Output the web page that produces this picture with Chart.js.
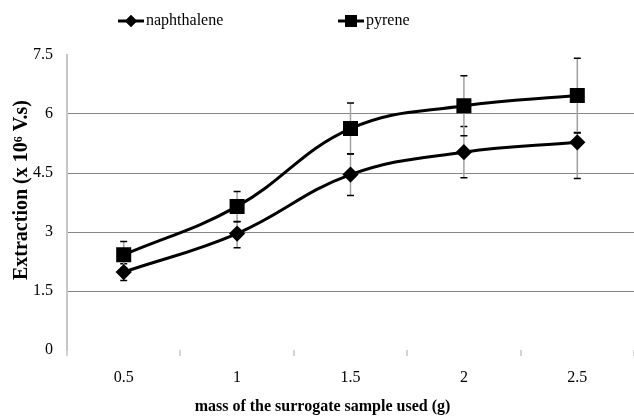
<!DOCTYPE html>
<html>
<head>
<meta charset="utf-8">
<script src="https://cdn.jsdelivr.net/npm/chart.js@4/dist/chart.umd.min.js"></script>
<style>
  html, body { margin: 0; padding: 0; background: #fff; }
</style>
</head>
<body>
<canvas id="myChart" width="634" height="417"></canvas>
<script>
/* globals Chart:false */
const masses = ['0.5', '1', '1.5', '2', '2.5']
const naphthalene = [1.98, 2.96, 4.46, 5.03, 5.28]
const naphthaleneErrUp = [0.21, 0.30, 0.53, 0.65, 0.25]
const naphthaleneErrDown = [0.21, 0.36, 0.53, 0.65, 0.92]
const pyrene = [2.42, 3.65, 5.63, 6.21, 6.47]
const pyreneErr = [0.34, 0.38, 0.65, 0.76, 0.95]
const yTicks = [0, 1.5, 3, 4.5, 6, 7.5]

const serif = '"Liberation Serif", "Times New Roman", serif'

// error bars: grey stem, short black caps
const errorBars = {
  id: 'errorBars',
  beforeDatasetsDraw (chart) {
    const { ctx } = chart
    const y = chart.scales.y
    chart.data.datasets.forEach((ds, i) => {
      const meta = chart.getDatasetMeta(i)
      meta.data.forEach((pt, j) => {
        const top = y.getPixelForValue(ds.data[j] + ds.errUp[j])
        const bot = y.getPixelForValue(ds.data[j] - ds.errDown[j])
        ctx.save()
        ctx.strokeStyle = '#a0a0a0'
        ctx.lineWidth = 1.5
        ctx.beginPath()
        ctx.moveTo(pt.x, top)
        ctx.lineTo(pt.x, bot)
        ctx.stroke()
        ctx.strokeStyle = '#000'
        ctx.beginPath()
        ctx.moveTo(pt.x - 3.5, top)
        ctx.lineTo(pt.x + 3.5, top)
        ctx.moveTo(pt.x - 3.5, bot)
        ctx.lineTo(pt.x + 3.5, bot)
        ctx.stroke()
        ctx.restore()
      })
    })
  }
}

// legend drawn like the Excel one: line + marker, then label
const lineLegend = {
  id: 'lineLegend',
  afterDraw (chart, args, opts) {
    const { ctx } = chart
    chart.data.datasets.forEach((ds, i) => {
      const x = opts.x[i]
      const y = opts.y
      ctx.save()
      ctx.strokeStyle = '#000'
      ctx.lineWidth = 3
      ctx.beginPath()
      ctx.moveTo(x, y)
      ctx.lineTo(x + 26, y)
      ctx.stroke()
      ctx.fillStyle = '#000'
      Chart.helpers.drawPoint(ctx, { pointStyle: ds.pointStyle, radius: ds.pointRadius, rotation: 0 }, x + 13, y)
      ctx.fill()
      ctx.font = '16px ' + serif
      ctx.textBaseline = 'middle'
      ctx.fillText(ds.label, x + 28, y)
      ctx.restore()
    })
  }
}

const ctx = document.getElementById('myChart')
new Chart(ctx, {
  type: 'line',
  data: {
    labels: masses,
    datasets: [{
      label: 'naphthalene',
      data: naphthalene,
      errUp: naphthaleneErrUp,
      errDown: naphthaleneErrDown,
      borderColor: '#000',
      borderWidth: 3,
      tension: 0.4,
      pointStyle: 'rectRot',
      pointRadius: 6,
      pointBackgroundColor: '#000',
      pointBorderColor: '#000'
    }, {
      label: 'pyrene',
      data: pyrene,
      errUp: pyreneErr,
      errDown: pyreneErr,
      borderColor: '#000',
      borderWidth: 3,
      tension: 0.4,
      pointStyle: 'rect',
      pointRadius: 8.5,
      pointBackgroundColor: '#000',
      pointBorderColor: '#000'
    }]
  },
  options: {
    responsive: false,
    animation: false,
    layout: { autoPadding: false, padding: { top: 55, right: -5, left: 0, bottom: 0 } },
    plugins: {
      legend: { display: false },
      tooltip: { enabled: false },
      lineLegend: { x: [118, 338], y: 21 }
    },
    scales: {
      x: {
        offset: true,
        grid: {
          offset: true,
          drawOnChartArea: false,
          drawTicks: true,
          tickLength: 6,
          color: '#d4d4d4',
          lineWidth: 2
        },
        border: { display: false },
        ticks: { color: '#000', font: { family: serif, size: 16 }, padding: 12 },
        title: {
          display: true,
          text: 'mass of the surrogate sample used (g)              ',
          color: '#000',
          font: { family: serif, size: 16, weight: 'bold' },
          padding: { top: 0, bottom: 1 }
        },
        afterFit (scale) {
          scale.height = 67
          scale.paddingLeft = 0
          scale.paddingRight = 0
        }
      },
      y: {
        min: 0,
        max: 7.5,
        afterBuildTicks (scale) { scale.ticks = yTicks.map(v => ({ value: v })) },
        grid: {
          color: c => (c.tick && c.tick.value > 0 && c.tick.value < 7.5) ? '#868686' : 'rgba(0,0,0,0)',
          drawTicks: false
        },
        border: { color: '#c6c6c6', width: 2 },
        ticks: { color: '#000', font: { family: serif, size: 16 }, padding: 14 },
        title: {
          display: true,
          text: '     Extraction (x 10⁶ V.s)',
          color: '#000',
          font: { family: serif, size: 20, weight: 'bold' },
          padding: { top: 10, bottom: 0 }
        },
        afterFit (scale) { scale.width = 67 }
      }
    }
  },
  plugins: [errorBars, lineLegend]
})
</script>
</body>
</html>
